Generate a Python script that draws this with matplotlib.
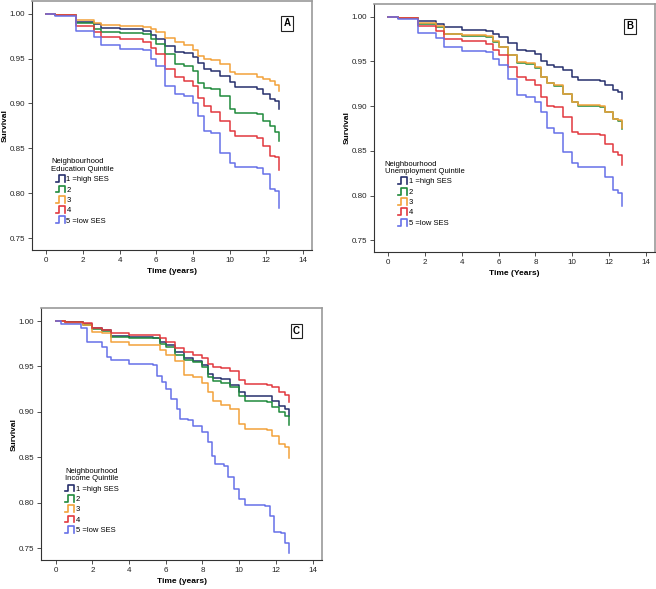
import matplotlib
matplotlib.use('Agg')
import matplotlib.pyplot as plt
from matplotlib.legend_handler import HandlerBase
from matplotlib.lines import Line2D

plt.rcParams['font.family'] = ['Liberation Sans', 'DejaVu Sans']

# Kaplan-Meier readings (time in years, survival), panel A: education quintile
t_a = [0, 0.5, 1.6, 2.6, 3.0, 4.0, 5.3, 5.7, 6.0, 6.5, 7.0, 7.5, 8.0, 8.3, 8.6, 9.0, 9.5, 10.0, 10.3, 11.5, 11.8, 12.2, 12.5, 12.7]
a_q1 = [1.0, 0.998, 0.991, 0.988, 0.9844, 0.9826, 0.981, 0.976, 0.972, 0.964, 0.957, 0.9566, 0.952, 0.9455, 0.938, 0.936, 0.931, 0.924, 0.918, 0.916, 0.910, 0.905, 0.903, 0.894]
a_q2 = [1.0, 0.998, 0.989, 0.983, 0.979, 0.978, 0.977, 0.972, 0.966, 0.955, 0.944, 0.942, 0.936, 0.923, 0.917, 0.916, 0.908, 0.894, 0.889, 0.888, 0.881, 0.875, 0.868, 0.858]
a_q3 = [1.0, 0.998, 0.9926, 0.990, 0.987, 0.986, 0.9855, 0.9826, 0.979, 0.973, 0.968, 0.965, 0.960, 0.953, 0.950, 0.948, 0.944, 0.935, 0.9325, 0.929, 0.927, 0.925, 0.920, 0.914]
a_q4 = [1.0, 0.998, 0.986, 0.980, 0.974, 0.9715, 0.968, 0.962, 0.955, 0.938, 0.929, 0.925, 0.919, 0.9065, 0.897, 0.890, 0.881, 0.869, 0.864, 0.862, 0.853, 0.842, 0.840, 0.826]
a_q5 = [1.0, 0.997, 0.981, 0.974, 0.965, 0.961, 0.960, 0.949, 0.942, 0.9195, 0.911, 0.908, 0.901, 0.886, 0.869, 0.8676, 0.845, 0.834, 0.829, 0.8286, 0.821, 0.8045, 0.803, 0.784]

# panel B: unemployment quintile
t_b = [0, 0.5, 1.6, 2.6, 3.0, 4.0, 5.3, 5.7, 6.0, 6.5, 7.0, 7.5, 8.0, 8.3, 8.6, 9.0, 9.5, 10.0, 10.3, 11.5, 11.8, 12.2, 12.5, 12.7]
b_q1 = [1.0, 0.998, 0.995, 0.992, 0.988, 0.985, 0.984, 0.981, 0.977, 0.970, 0.963, 0.961, 0.958, 0.950, 0.9455, 0.944, 0.940, 0.932, 0.929, 0.928, 0.923, 0.918, 0.916, 0.908]
b_q2 = [1.0, 0.998, 0.9922, 0.9885, 0.9805, 0.9785, 0.9775, 0.972, 0.9655, 0.9565, 0.9485, 0.9475, 0.943, 0.932, 0.9255, 0.9225, 0.9135, 0.9042, 0.9005, 0.8995, 0.893, 0.8855, 0.8835, 0.8745]
b_q3 = [1.0, 0.998, 0.9926, 0.989, 0.981, 0.979, 0.978, 0.9725, 0.966, 0.957, 0.949, 0.948, 0.9436, 0.9325, 0.926, 0.923, 0.914, 0.9047, 0.901, 0.900, 0.8935, 0.886, 0.884, 0.875]
b_q4 = [1.0, 0.998, 0.989, 0.9844, 0.975, 0.9725, 0.9696, 0.963, 0.9566, 0.9436, 0.932, 0.9295, 0.923, 0.910, 0.900, 0.8984, 0.888, 0.871, 0.869, 0.8676, 0.858, 0.849, 0.845, 0.834]
b_q5 = [1.0, 0.997, 0.9815, 0.976, 0.966, 0.9614, 0.960, 0.953, 0.9455, 0.9306, 0.912, 0.910, 0.9047, 0.8935, 0.875, 0.8694, 0.849, 0.836, 0.832, 0.8316, 0.821, 0.806, 0.803, 0.788]

# panel C: income quintile
t_c = [0, 0.5, 1.5, 2.0, 2.5, 3.0, 4.0, 5.3, 5.7, 6.0, 6.5, 7.0, 7.5, 8.0, 8.3, 8.6, 9.0, 9.5, 10.0, 10.3, 11.5, 11.8, 12.2, 12.5, 12.7]
c_q1 = [1.0, 0.999, 0.9963, 0.992, 0.990, 0.9838, 0.982, 0.9816, 0.977, 0.9735, 0.9654, 0.9588, 0.9558, 0.9514, 0.942, 0.9374, 0.9367, 0.930, 0.922, 0.918, 0.917, 0.9124, 0.907, 0.9035, 0.895]
c_q2 = [1.0, 0.999, 0.9956, 0.991, 0.989, 0.9827, 0.981, 0.981, 0.975, 0.9716, 0.9624, 0.957, 0.955, 0.9496, 0.9385, 0.9337, 0.932, 0.9275, 0.918, 0.9116, 0.911, 0.9054, 0.900, 0.896, 0.886]
c_q3 = [1.0, 0.998, 0.9956, 0.988, 0.9864, 0.977, 0.974, 0.9735, 0.968, 0.9624, 0.9558, 0.941, 0.9385, 0.932, 0.922, 0.9116, 0.908, 0.9035, 0.887, 0.8814, 0.8796, 0.874, 0.865, 0.861, 0.849]
c_q4 = [1.0, 0.999, 0.9974, 0.992, 0.990, 0.9864, 0.985, 0.9845, 0.981, 0.977, 0.970, 0.9654, 0.963, 0.9595, 0.953, 0.9496, 0.9485, 0.9448, 0.935, 0.9311, 0.930, 0.9275, 0.922, 0.919, 0.911]
t_c5 = [0, 0.3, 1.4, 1.7, 2.5, 2.8, 3.0, 4.0, 5.3, 5.5, 5.8, 6.0, 6.3, 6.6, 6.8, 7.2, 7.5, 8.0, 8.3, 8.5, 8.7, 9.2, 9.4, 9.7, 10.0, 10.3, 11.4, 11.7, 11.9, 12.3, 12.5, 12.7]
c_q5 = [1.0, 0.9963, 0.992, 0.977, 0.9716, 0.9606, 0.957, 0.953, 0.952, 0.940, 0.933, 0.9256, 0.9146, 0.9035, 0.8925, 0.8906, 0.885, 0.878, 0.8667, 0.852, 0.843, 0.841, 0.828, 0.8156, 0.8046, 0.7975, 0.796, 0.7857, 0.768, 0.7666, 0.756, 0.745]

labels = ['1 =high SES', '2', '3', '4', '5 =low SES']
colors = ['#262f6c', '#1f8a3c', '#f2a23a', '#e2383e', '#6670e8']


class StepHandler(HandlerBase):
    # draws the little step glyph used in SPSS survival legends
    def create_artists(self, legend, orig_handle, xdescent, ydescent,
                       width, height, fontsize, trans):
        x0 = -xdescent
        y0 = -ydescent
        h = height
        xs = [x0, x0 + width * 0.35, x0 + width * 0.35, x0 + width, x0 + width]
        ys = [y0, y0, y0 + h, y0 + h, y0]
        ln = Line2D(xs, ys, color=orig_handle.get_color(), lw=1.2,
                    transform=trans)
        return [ln]


def draw_panel(ax, curves, letter, legend_title, xlabel):
    for (tt, s), c, lab in zip(curves, colors, labels):
        ax.step(tt, s, where='post', color=c, lw=1.1, label=lab)
    ax.set_xlim(-0.78, 14.5)
    ax.set_ylim(0.737, 1.014)
    ax.set_xticks(range(0, 15, 2))
    ax.set_yticks([0.75, 0.80, 0.85, 0.90, 0.95, 1.00])
    ax.set_yticklabels(['0.75', '0.80', '0.85', '0.90', '0.95', '1.00'])
    ax.tick_params(labelsize=5.8, length=3, width=0.6, colors='#333333',
                   labelcolor='#222222', pad=2)
    for side in ['left', 'bottom']:
        ax.spines[side].set_color('#333333')
        ax.spines[side].set_linewidth(0.8)
    for side in ['top', 'right']:
        ax.spines[side].set_color('#9a9a9a')
        ax.spines[side].set_linewidth(1.2)
    ax.set_xlabel(xlabel, fontsize=6, fontweight='bold', labelpad=3)
    ax.set_ylabel('Survival', fontsize=6, fontweight='bold')
    ax.yaxis.set_label_coords(-0.083, 0.5)
    ax.text(0.91, 0.91, letter, transform=ax.transAxes, fontsize=7,
            fontweight='bold', ha='center', va='center',
            bbox=dict(boxstyle='square,pad=0.25', fc='white', ec='#222222', lw=0.8))
    leg = ax.legend(title=legend_title, loc='center', bbox_to_anchor=(0.18, 0.235),
                    frameon=False, fontsize=5.5, title_fontsize=5.5,
                    handler_map={Line2D: StepHandler()},
                    handlelength=1.2, handleheight=1.0, handletextpad=0.2,
                    labelspacing=0.3, borderpad=0.2)
    leg._legend_box.align = 'center'
    leg.get_title().set_linespacing(1.1)


fig = plt.figure(figsize=(6.56, 5.89), dpi=100)
ax_a = fig.add_axes([0.0488, 0.5756, 0.4268, 0.4227])
ax_b = fig.add_axes([0.5701, 0.5722, 0.4284, 0.421])
ax_c = fig.add_axes([0.063, 0.0492, 0.4274, 0.4274])

draw_panel(ax_a, [(t_a, a_q1), (t_a, a_q2), (t_a, a_q3), (t_a, a_q4), (t_a, a_q5)],
           'A', 'Neighbourhood\nEducation Quintile', 'Time (years)')
draw_panel(ax_b, [(t_b, b_q1), (t_b, b_q2), (t_b, b_q3), (t_b, b_q4), (t_b, b_q5)],
           'B', 'Neighbourhood\nUnemployment Quintile', 'Time (Years)')
draw_panel(ax_c, [(t_c, c_q1), (t_c, c_q2), (t_c, c_q3), (t_c, c_q4), (t_c5, c_q5)],
           'C', 'Neighbourhood\nIncome Quintile', 'Time (years)')

fig.savefig('out.png', dpi=100, facecolor='white')
